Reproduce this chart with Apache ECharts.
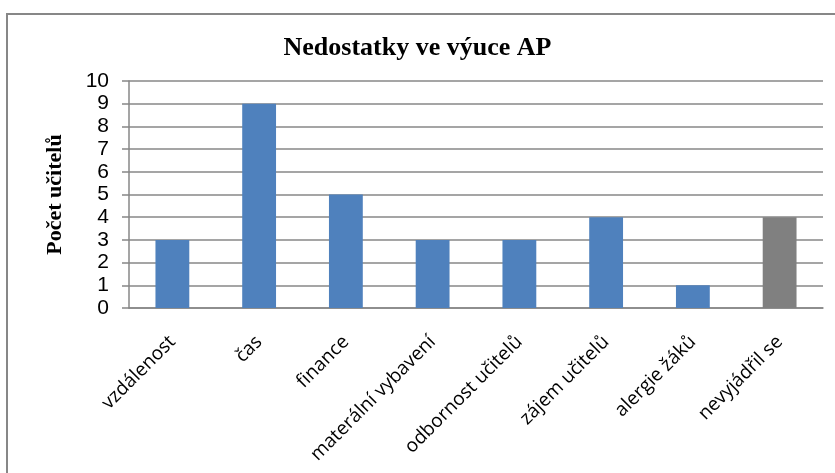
<!DOCTYPE html>
<html>
<head>
<meta charset="utf-8">
<script src="https://cdn.jsdelivr.net/npm/echarts@6/dist/echarts.min.js"></script>
<style>
  html, body { margin: 0; padding: 0; background: #fff; }
  #chart { width: 835px; height: 473px; }
</style>
</head>
<body>
<div id="chart"></div>
<script>
// kategorie a hodnoty
const categories = ['vzdálenost', 'čas', 'finance', 'materální vybavení', 'odbornost učitelů', 'zájem učitelů', 'alergie žáků', 'nevyjádřil se']
const values = [3, 9, 5, 3, 3, 4, 1, 4]
const grayCategory = 'nevyjádřil se'

const chart = echarts.init(document.getElementById('chart'))
chart.setOption({
  backgroundColor: '#fff',
  animation: false,
  title: {
    text: 'Nedostatky ve výuce AP',
    left: 'center',
    top: 30,
    textStyle: {
      fontFamily: 'Liberation Serif',
      fontWeight: 'bold',
      fontSize: 26,
      color: '#000'
    }
  },
  graphic: [{
    type: 'rect',
    shape: { x: 7, y: 14, width: 860, height: 500 },
    style: { fill: 'none', stroke: '#878787', lineWidth: 2 },
    silent: true
  }],
  grid: {
    left: 129,
    right: 12,
    top: 81,
    bottom: 165
  },
  xAxis: {
    type: 'category',
    data: categories,
    axisLine: { lineStyle: { color: '#878787', width: 1.5 } },
    axisTick: { show: false },
    axisLabel: {
      interval: 0,
      rotate: 45,
      margin: 31,
      fontFamily: 'Open Sans',
      fontSize: 19,
      color: '#000'
    }
  },
  yAxis: {
    type: 'value',
    min: 0,
    max: 10,
    interval: 1,
    name: 'Počet učitelů',
    nameLocation: 'middle',
    nameGap: 63,
    nameTextStyle: {
      fontFamily: 'Liberation Serif',
      fontWeight: 'bold',
      fontSize: 22,
      color: '#000'
    },
    axisLine: { show: true, lineStyle: { color: '#878787', width: 1.5 } },
    axisTick: { show: true, length: 7, lineStyle: { color: '#878787', width: 1.5 } },
    splitLine: { lineStyle: { color: '#878787', width: 1.5 } },
    axisLabel: {
      margin: 20,
      fontFamily: 'Liberation Sans',
      fontSize: 21,
      color: '#000'
    }
  },
  series: [{
    type: 'bar',
    data: values,
    barWidth: '39%',
    itemStyle: {
      color: function (p) {
        return p.name === grayCategory ? '#808080' : '#4F81BD'
      }
    }
  }]
})
</script>
</body>
</html>
